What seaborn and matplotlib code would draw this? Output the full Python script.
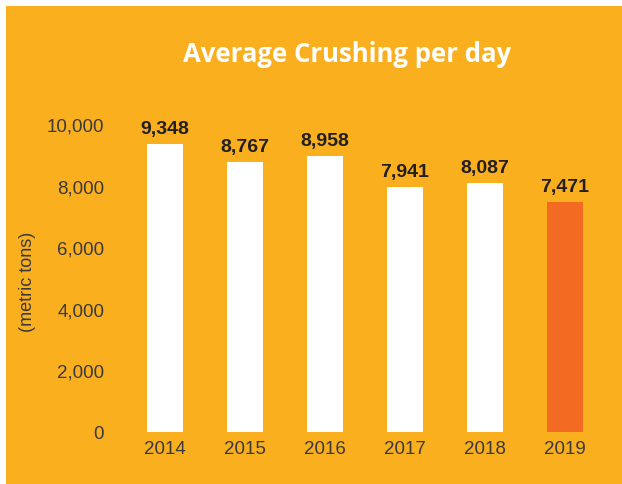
import pandas as pd
import matplotlib.pyplot as plt
import seaborn as sns
from matplotlib.patches import Rectangle

years = ['2014', '2015', '2016', '2017', '2018', '2019']
crushing = [9348, 8767, 8958, 7941, 8087, 7471]
bar_colors = ['#FFFFFF', '#FFFFFF', '#FFFFFF', '#FFFFFF', '#FFFFFF', '#F36A22']

orange = '#FAAF1F'
df = pd.DataFrame({'year': years, 'tons': crushing})

sns.set_style('white')
plt.rcParams['font.family'] = ['Liberation Sans', 'DejaVu Sans']

fig = plt.figure(figsize=(6.22, 4.85), dpi=100, facecolor='white')
fig.patches.append(Rectangle((6 / 622, 0), 1, 1 - 7 / 485, transform=fig.transFigure,
                             facecolor=orange, edgecolor='none', zorder=-5))

ax = fig.add_axes([125 / 622, 52 / 485, 480 / 622, 323.4 / 485])
ax.set_zorder(2)
ax.set_facecolor('none')
sns.barplot(data=df, x='year', y='tons', hue='year', palette=bar_colors,
            legend=False, width=0.45, saturation=1, linewidth=0, ax=ax)

for i, v in enumerate(crushing):
    ax.annotate(f'{v:,}', (i, v), xytext=(0, 5), textcoords='offset points',
                ha='center', va='bottom', fontsize=14, fontweight='bold', color='#231F20')

ax.set_ylim(0, 10500)
ax.set_xlim(-0.5, 5.5)
ax.set_yticks(range(0, 10001, 2000))
ax.set_yticklabels([f'{t:,}' for t in range(0, 10001, 2000)])
ax.tick_params(axis='y', length=0, pad=15, labelsize=13.5, labelcolor='#3A3A3A')
ax.tick_params(axis='x', length=0, pad=6, labelsize=13.5, labelcolor='#3A3A3A')
ax.set_xlabel('')
ax.set_ylabel('')
sns.despine(ax=ax, left=True, bottom=True)

fig.text(28 / 622, 1 - 282 / 485, '(metric tons)', rotation=90, ha='center', va='center',
         fontsize=13, color='#3A3A3A', zorder=3)
fig.text(347 / 622, 1 - 55 / 485, 'Average Crushing per day', ha='center', va='center',
         fontsize=18.5, fontweight='bold', color='white', family=['Open Sans', 'DejaVu Sans'],
         zorder=3)

fig.savefig('out.png', dpi=100, facecolor='white')
